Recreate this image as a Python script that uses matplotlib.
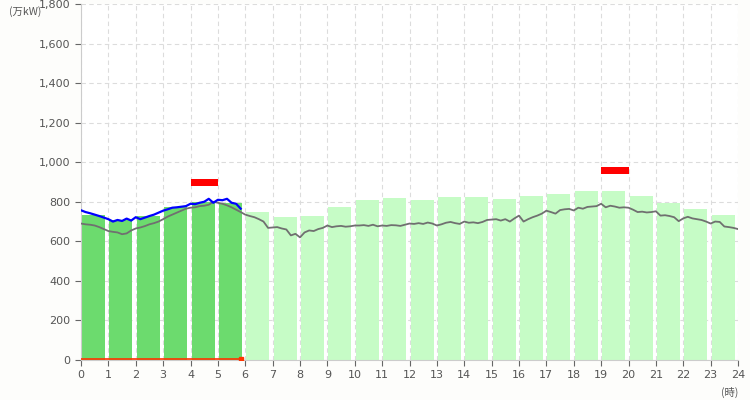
import numpy as np
import matplotlib.pyplot as plt
from matplotlib.ticker import FuncFormatter

# hourly bars (万kW)
hours = np.arange(24)
bar_values = [733, 708, 728, 773, 800, 794,
              748, 723, 728, 773, 809, 819, 809, 824, 824, 814,
              829, 839, 854, 854, 829, 794, 763, 733]
n_actual = 6   # first hours drawn in the darker green

# peak markers
peak_hours = [4, 19]
peak_values = [897, 958]

# grey curve, 10 minute steps 0:00 - 24:00
grey_line = [690, 686, 684, 680, 672, 662,
             652, 648, 645, 636, 640, 655,
             665, 670, 677, 686, 692, 700,
             712, 725, 735, 745, 755, 765,
             770, 772, 778, 780, 785, 800,
             795, 790, 782, 772, 760, 748,
             735, 728, 722, 712, 700, 668,
             670, 672, 665, 660, 630, 638,
             620, 645, 655, 652, 662, 668,
             680, 672, 676, 678, 674, 676,
             680, 680, 682, 678, 684, 676,
             680, 678, 682, 681, 678, 684,
             690, 688, 692, 688, 695, 690,
             680, 686, 694, 698, 692, 688,
             700, 694, 696, 692, 698, 708,
             710, 712, 705, 712, 700, 716,
             730, 700, 712, 722, 730, 740,
             755, 748, 740, 758, 762, 764,
             756, 770, 765, 774, 776, 778,
             790, 772, 780, 776, 770, 772,
             770, 760, 748, 750, 746, 748,
             752, 730, 732, 728, 722, 702,
             716, 724, 716, 712, 708, 700,
             690, 700, 698, 675, 672, 668,
             662]

# blue curve, 10 minute steps 0:00 - 5:50
blue_line = [757, 748, 742, 735, 728, 720,
             712, 700, 708, 703, 715, 705,
             722, 712, 720, 728, 735, 745,
             755, 762, 770, 772, 775, 778,
             790, 788, 795, 800, 815, 795,
             810, 808, 815, 795, 790, 765]

# small red series along the bottom
red_line = [5] * len(blue_line)

t_grey = np.arange(len(grey_line)) / 6
t_blue = np.arange(len(blue_line)) / 6

plt.rcParams['font.family'] = ['DejaVu Sans', 'Noto Sans CJK JP']
txt = '#555555'

fig = plt.figure(figsize=(7.5, 4), dpi=100, facecolor='#fdfdfb')
ax = fig.add_axes([0.108, 0.1, 0.876, 0.89])
ax.set_facecolor('white')

colors = ['#6cdb6e' if h < n_actual else '#c6fcc6' for h in hours]
ax.bar(hours + 0.04, bar_values, width=0.84, align='edge', color=colors, zorder=2)

ax.bar(peak_hours, 35, bottom=np.array(peak_values) - 17.5, width=1.0,
       align='edge', color='#ff0000', zorder=3)

ax.plot(t_grey, grey_line, color='#707070', lw=1.3, zorder=4)
ax.plot(t_blue, blue_line, color='#0000ff', lw=1.6, zorder=5)
ax.plot(t_blue, red_line, color='#ff3300', lw=1.2, zorder=5)
ax.plot(t_blue[-1:], red_line[-1:], 's', color='#ff3300', ms=3, zorder=5)

ax.set_xlim(0, 24)
ax.set_ylim(0, 1800)
ax.set_xticks(range(25))
ax.set_yticks(range(0, 1801, 200))
ax.yaxis.set_major_formatter(FuncFormatter(lambda v, p: f'{int(v):,}'))
ax.grid(True, color='#dcdcdc', ls=(0, (4, 3)), lw=0.8, zorder=1)
ax.set_axisbelow(True)

for s in ['top', 'right']:
    ax.spines[s].set_visible(False)
for s in ['left', 'bottom']:
    ax.spines[s].set_color('#cccccc')
ax.tick_params(colors='#666666', labelcolor=txt, labelsize=8, length=4, width=0.8)

fig.text(0.012, 0.972, '(万kW)', fontsize=7.5, color=txt, ha='left', va='center',
         family=['Noto Sans CJK JP', 'DejaVu Sans'])
fig.text(0.984, 0.018, '(時)', fontsize=7.5, color=txt, ha='right', va='center',
         family=['Noto Sans CJK JP', 'DejaVu Sans'])

fig.savefig('out.png', dpi=100, facecolor=fig.get_facecolor())
